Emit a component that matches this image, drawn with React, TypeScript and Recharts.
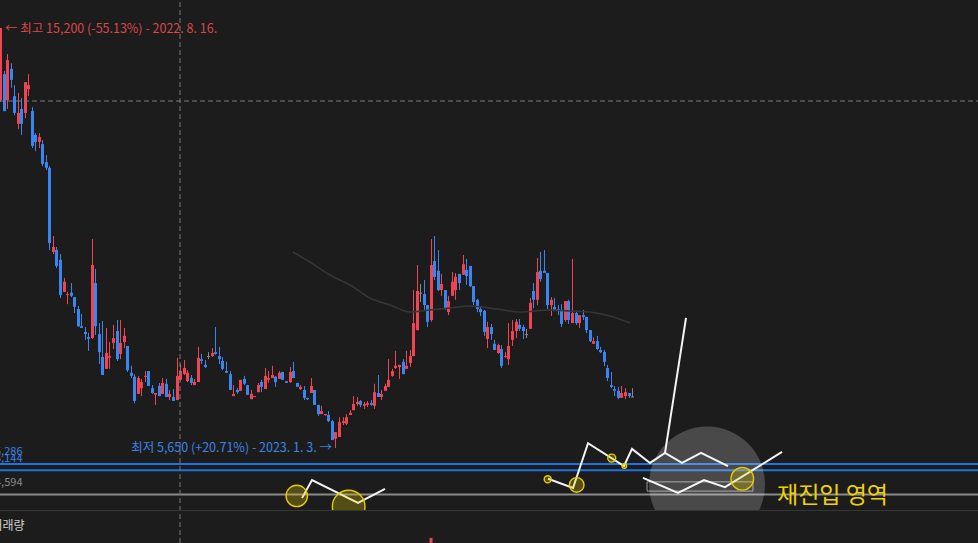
import React from "react";
import {
  ComposedChart,
  Bar,
  Line,
  XAxis,
  YAxis,
  ReferenceLine,
  ReferenceDot,
  ReferenceArea,
} from "recharts";

// ---------- candle data (index 0..179), prices in KRW ----------
const OPEN = [
  13560, 14150, 13560, 14270, 13650, 13020, 13360, 13270, 13810, 13310,
  12770, 12610, 12560, 12150, 12020, 10110, 10150, 9930, 9200, 9130,
  9180, 9080, 8810, 8420, 8290, 8170, 8150, 9400, 8240, 7720,
  7450, 7700, 8040, 8310, 7790, 8060, 7970, 7360, 7270, 6880,
  7010, 7270, 7400, 7010, 6860, 7060, 6880, 7110, 6810, 6810,
  6740, 7200, 7330, 7170, 7240, 7080, 7150, 7670, 7540, 7740,
  7740, 7830, 7740, 7630, 7400, 7330, 6830, 6970, 6950, 7220,
  7080, 6760, 6810, 6920, 7150, 6990, 7200, 7240, 7270, 7220,
  7380, 7170, 7150, 7400, 7130, 6990, 6970, 6790, 6900, 6970,
  6630, 6420, 6400, 6400, 6260, 5860, 5900, 6220, 6200, 6400,
  6510, 6650, 6720, 6610, 6630, 6670, 6610, 6900, 6810, 6950,
  7040, 7290, 7470, 7490, 7610, 7450, 7580, 7740, 8330, 9180,
  9150, 8900, 8560, 9900, 9680, 9240, 9240, 8740, 9110, 9240,
  9610, 9590, 9700, 9790, 9330, 9020, 8810, 8770, 8130, 8400,
  8020, 7810, 7900, 7720, 7670, 8110, 8310, 8450, 8400, 8240,
  8360, 9220, 9020, 9680, 9680, 9630, 8900, 8860, 8810, 8790,
  8560, 8990, 8490, 8720, 8490, 8670, 8630, 8330, 8020, 8080,
  7880, 7830, 7470, 7080, 6990, 6950, 6790, 6830, 6900, 6820,
];
const HIGH = [
  15200, 14220, 14610, 14400, 13900, 13720, 13610, 13970, 14150, 13400,
  12810, 12810, 12650, 12310, 12060, 10470, 10220, 10060, 9520, 9200,
  9400, 9080, 8880, 8700, 8400, 8270, 10400, 9720, 8490, 8540,
  8380, 8060, 8450, 8560, 8560, 8380, 7970, 7520, 7330, 7290,
  7220, 7400, 7400, 7080, 6900, 7130, 7240, 7220, 6970, 6990,
  7700, 7560, 7650, 7420, 7310, 7220, 7950, 7790, 7650, 7830,
  7920, 8400, 7950, 7720, 7610, 7400, 7080, 7010, 7200, 7290,
  7080, 6970, 6830, 7130, 7200, 7470, 7400, 7520, 7290, 7400,
  7380, 7170, 7490, 7610, 7130, 7080, 7060, 6790, 7240, 6970,
  6630, 6610, 6420, 6490, 6290, 6010, 6350, 6350, 6420, 6510,
  6830, 6810, 6740, 6700, 6720, 6740, 7110, 7310, 6970, 7110,
  7670, 7450, 7860, 7540, 7670, 7860, 7880, 9240, 9810, 9380,
  9470, 8900, 10400, 10470, 10150, 9610, 9240, 9110, 9650, 9630,
  9610, 10040, 9950, 9790, 9330, 9040, 8860, 8790, 8520, 8470,
  8110, 8020, 7990, 7830, 8490, 8560, 8580, 8580, 8450, 8360,
  9060, 9400, 9970, 10110, 10150, 9630, 9080, 9060, 8900, 8920,
  8990, 9020, 9950, 8770, 8670, 8790, 8630, 8330, 8170, 8200,
  7950, 7880, 7540, 7380, 7060, 7040, 7060, 7010, 6900, 7010,
];
const LOW = [
  13520, 13310, 13360, 13840, 13220, 12900, 12770, 13150, 13650, 12470,
  12400, 12470, 12060, 11970, 10150, 10060, 9740, 9060, 9200, 8920,
  9080, 8720, 8400, 8380, 8110, 7860, 8130, 8220, 7560, 7310,
  7450, 7450, 7900, 7630, 7670, 7920, 7380, 7240, 6670, 6880,
  6830, 7150, 7060, 6880, 6630, 6830, 6880, 6810, 6740, 6720,
  6740, 7170, 7310, 7150, 7080, 7080, 7150, 7560, 7470, 7670,
  7720, 7770, 7560, 7420, 7360, 6970, 6830, 6880, 6950, 7080,
  6860, 6760, 6810, 6920, 6920, 6990, 7130, 7240, 7040, 7220,
  7200, 7130, 7130, 7240, 7040, 6970, 6740, 6740, 6900, 6630,
  6380, 6420, 6380, 6240, 5830, 5650, 5900, 6170, 6170, 6400,
  6510, 6610, 6580, 6540, 6580, 6610, 6540, 6810, 6740, 6950,
  7040, 7270, 7450, 7220, 7330, 7450, 7490, 7740, 8330, 8970,
  8790, 8400, 8520, 9470, 9220, 9110, 8790, 8670, 9110, 9020,
  9240, 9590, 9360, 9310, 8900, 8740, 8650, 8200, 7920, 8110,
  7880, 7790, 7470, 7700, 7540, 7970, 8150, 8310, 8130, 8150,
  8360, 8830, 8900, 9430, 9630, 8810, 8650, 8760, 8670, 8400,
  8520, 8470, 8490, 8450, 8380, 8560, 8260, 8060, 8020, 7880,
  7810, 7510, 7170, 7010, 6830, 6760, 6790, 6760, 6790, 6810,
];
const CLOSE = [
  15200, 13310, 14470, 14020, 13270, 13270, 13020, 13970, 13900, 12520,
  12610, 12720, 12110, 12020, 10310, 10220, 9790, 9130, 9430, 9150,
  9110, 8860, 8420, 8380, 8240, 8130, 9810, 8420, 7830, 7310,
  7810, 7740, 8150, 7670, 8040, 8200, 7420, 7290, 6720, 7240,
  7150, 7290, 7060, 6900, 6900, 6830, 7130, 6810, 6880, 6720,
  7290, 7400, 7470, 7360, 7130, 7150, 7700, 7630, 7490, 7740,
  7810, 7790, 7670, 7450, 7360, 6970, 6880, 6920, 7200, 7110,
  6860, 6880, 6830, 7080, 7040, 7290, 7240, 7310, 7150, 7360,
  7200, 7130, 7380, 7240, 7040, 7040, 6790, 6760, 7060, 6630,
  6420, 6490, 6420, 6260, 5830, 6010, 6240, 6260, 6350, 6450,
  6650, 6700, 6630, 6650, 6670, 6630, 6920, 6810, 6880, 7060,
  7200, 7400, 7520, 7540, 7330, 7520, 7740, 8490, 9220, 9180,
  8900, 8520, 9810, 9540, 9240, 9380, 8810, 8990, 9430, 9540,
  9400, 9830, 9560, 9330, 8970, 8810, 8740, 8290, 8400, 8240,
  7880, 7990, 7520, 7740, 7970, 8310, 8520, 8360, 8310, 8240,
  8950, 9020, 9650, 9490, 9630, 8900, 9020, 8790, 8760, 8470,
  8990, 8560, 8720, 8490, 8670, 8630, 8330, 8080, 8080, 7900,
  7830, 7610, 7240, 7040, 6950, 6790, 6900, 6920, 6830, 6820,
];

// moving average (read where visible)
const MA_I = [82.8, 87.6, 93.3, 99.0, 104.6, 110.3, 116.0, 121.6, 127.3, 133.0, 140.6, 147.1, 155.6, 161.3, 166.9, 172.6, 178.3];
const MA_P = [10107, 9879, 9584, 9356, 9061, 8902, 8742, 8788, 8833, 8879, 8811, 8742, 8788, 8765, 8742, 8651, 8492];

// volume: only one bar is visible in the cropped volume pane
const VOLUME_I = [122];
const VOLUME_V = [16];

// level lines
const BLUE_LEVELS = [5286, 5144];
const GRAY_LEVEL = 4594;

// crosshair
const CROSS_I = 50.84;
const CROSS_P = 13540;

// hand-drawn annotation strokes (index, price)
const STROKE_A_I = [85.39, 88.22, 101.25, 108.89];
const STROKE_A_P = [4510, 4920, 4400, 4720];
const STROKE_B_I = [155.06, 162.14, 166.39, 176.58, 178.84, 183.94, 188.19, 193.0, 198.39, 206.04];
const STROKE_B_P = [4950, 4740, 5760, 5240, 5630, 5310, 5540, 5310, 5540, 5240];
const STROKE_C_I = [188.19, 194.14];
const STROKE_C_P = [5540, 8610];
const STROKE_D_I = [181.96, 191.87, 199.23, 205.18, 221.33];
const STROKE_D_P = [4970, 4630, 4920, 4760, 5560];

// yellow markers
const MARK_I = [83.9, 98.6, 154.97, 163.18, 173.1, 176.66, 210.08];
const MARK_P = [4560, 4320, 4940, 4810, 5420, 5240, 4950];
const MARK_R = [10.7, 16.3, 3.5, 7.3, 4, 2.3, 11.3];

// highlight circle + box
const HILITE_I = 200.1;
const HILITE_P = 4820;
const BOX_I = [183.1, 213.1];
const BOX_P = [4670, 4880];

// ---------- styles ----------
const BG = "#1c1c1c";
const RED = "#f04452";
const BLUE = "#3a86f0";
const GRAY = "#8a8a8a";
const LEVEL_BLUE = "#1f72e0";
const YELLOW = "#e6cc00";
const LABEL_YELLOW = "#f0d200";
const X_DOMAIN: [number, number] = [-0.142, 276.83];
const Y_DOMAIN: [number, number] = [4217.5, 15836.7];

const CANDLES = OPEN.map((o, i) => ({ i, o, h: HIGH[i], l: LOW[i], c: CLOSE[i] }));
const MA = MA_I.map((i, k) => ({ i, v: MA_P[k] }));
const VOLUME = CANDLES.map((d) => {
  const k = VOLUME_I.indexOf(d.i);
  return { i: d.i, v: k >= 0 ? VOLUME_V[k] : null };
});
const toPts = (xs: number[], ys: number[]) => xs.map((i, k) => ({ i, v: ys[k] }));
const STROKES = [
  toPts(STROKE_A_I, STROKE_A_P),
  toPts(STROKE_B_I, STROKE_B_P),
  toPts(STROKE_C_I, STROKE_C_P),
  toPts(STROKE_D_I, STROKE_D_P),
];

const renderCandle = (props: any) => {
  const { x, y, width, height, payload } = props;
  if (payload == null || x == null || y == null) return <g />;
  const { o, h, l, c } = payload;
  const top = Math.min(y, y + height);
  const bot = Math.max(y, y + height);
  const span = h - l;
  const yOf = (p: number) => (span === 0 ? top : top + ((h - p) / span) * (bot - top));
  const cx = x + width / 2;
  const color = c > o ? RED : c < o ? BLUE : GRAY;
  const bx = Math.round(cx - 1.5);
  const bTop = yOf(Math.max(o, c));
  const bBot = yOf(Math.min(o, c));
  return (
    <g>
      <line x1={bx + 1.5} x2={bx + 1.5} y1={top} y2={bot} stroke={color} strokeWidth={1} />
      <rect x={bx} y={bTop} width={3} height={Math.max(1, bBot - bTop)} fill={color} />
    </g>
  );
};

export default function App() {
  return (
    <div
      style={{
        position: "fixed",
        left: 0,
        top: 0,
        width: 978,
        height: 543,
        background: BG,
        overflow: "hidden",
      }}
    >
      <div style={{ position: "absolute", left: 0, top: 0 }}>
        <ComposedChart width={978} height={511} data={CANDLES} margin={{ top: 0, right: 0, bottom: 0, left: 0 }}>
          <XAxis dataKey="i" type="number" domain={X_DOMAIN} allowDataOverflow hide />
          <YAxis type="number" domain={Y_DOMAIN} allowDataOverflow hide />
          <Line
            data={MA}
            dataKey="v"
            type="monotone"
            stroke="#363636"
            strokeWidth={1.6}
            dot={false}
            activeDot={false}
            isAnimationActive={false}
          />
          <Bar dataKey={(d: any) => [d.l, d.h]} barSize={3} shape={renderCandle} isAnimationActive={false} />
          {BLUE_LEVELS.map((p) => (
            <ReferenceLine key={p} y={p} stroke={LEVEL_BLUE} strokeWidth={2} />
          ))}
          <ReferenceLine y={GRAY_LEVEL} stroke={GRAY} strokeWidth={2} />
          <ReferenceLine y={CROSS_P} stroke="#7a7a7a" strokeDasharray="5 3" strokeWidth={1} />
          <ReferenceLine x={CROSS_I} stroke="#7a7a7a" strokeDasharray="5 3" strokeWidth={1} />
          <ReferenceDot
            x={HILITE_I}
            y={HILITE_P}
            r={58}
            fill="#ffffff"
            fillOpacity={0.2}
            stroke="none"
            ifOverflow="hidden"
          />
          <ReferenceArea
            x1={BOX_I[0]}
            x2={BOX_I[1]}
            y1={BOX_P[0]}
            y2={BOX_P[1]}
            fill="none"
            fillOpacity={0}
            stroke="#b8b8b8"
            strokeOpacity={0.8}
            strokeWidth={1}
            ifOverflow="hidden"
          />
          {STROKES.map((pts, k) => (
            <Line
              key={k}
              data={pts}
              dataKey="v"
              type="linear"
              stroke="#f4f4f4"
              strokeWidth={2}
              dot={false}
              activeDot={false}
              isAnimationActive={false}
            />
          ))}
          {MARK_I.map((i, k) => (
            <ReferenceDot
              key={k}
              x={i}
              y={MARK_P[k]}
              r={MARK_R[k]}
              fill={YELLOW}
              fillOpacity={0.28}
              stroke={YELLOW}
              strokeWidth={1.4}
              ifOverflow="hidden"
            />
          ))}
        </ComposedChart>
      </div>
      <div
        style={{
          position: "absolute",
          left: 0,
          top: 510,
          width: 978,
          height: 33,
          borderTop: "1px solid #363636",
        }}
      >
        <ComposedChart width={978} height={32} data={VOLUME} margin={{ top: 0, right: 0, bottom: 0, left: 0 }}>
          <XAxis dataKey="i" type="number" domain={X_DOMAIN} allowDataOverflow hide />
          <YAxis type="number" domain={[0, 100]} allowDataOverflow hide />
          <ReferenceLine x={CROSS_I} stroke="#7a7a7a" strokeDasharray="5 3" strokeWidth={1} />
          <Bar dataKey="v" barSize={3} fill={RED} isAnimationActive={false} />
        </ComposedChart>
      </div>
      <svg
        width={978}
        height={543}
        style={{ position: "absolute", left: 0, top: 0, pointerEvents: "none" }}
        fontFamily="'Noto Sans CJK KR', 'Noto Sans', sans-serif"
      >
        <text x={5} y={32.5} fontSize={12.5} fill="#d9484a">
          ← 최고 15,200 (-55.13%) - 2022. 8. 16.
        </text>
        <text x={332} y={452} fontSize={12.5} fill="#3d84e6" textAnchor="end">
          최저 5,650 (+20.71%) - 2023. 1. 3. →
        </text>
        <text x={22.5} y={455} fontSize={11} fill="#3d84e6" textAnchor="end">
          5,286
        </text>
        <text x={22.5} y={462} fontSize={11} fill="#3d84e6" textAnchor="end">
          5,144
        </text>
        <text x={22.5} y={486} fontSize={11} fill="#8a8a8a" textAnchor="end">
          4,594
        </text>
        <text x={24.5} y={530} fontSize={12} fill="#d0d0d0" textAnchor="end">
          거래량
        </text>
        <text x={777} y={502.5} fontSize={23} fill={LABEL_YELLOW}>
          재진입 영역
        </text>
      </svg>
    </div>
  );
}
